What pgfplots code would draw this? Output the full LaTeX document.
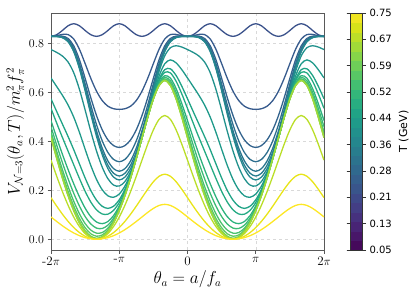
\documentclass[border=0pt]{standalone}
\usepackage{fontspec}
\usepackage{pgfplots}
\usepackage{pgfplotstable}
\pgfplotsset{compat=1.18}
\newfontfamily\dejavu{DejaVu Sans}
\definecolor{k1}{HTML}{3B528B}
\definecolor{k2}{HTML}{375B8D}
\definecolor{k3}{HTML}{33638D}
\definecolor{k4}{HTML}{2E6E8E}
\definecolor{k5}{HTML}{2B758E}
\definecolor{k6}{HTML}{287D8E}
\definecolor{k7}{HTML}{24878E}
\definecolor{k8}{HTML}{21918C}
\definecolor{k9}{HTML}{1F998A}
\definecolor{k10}{HTML}{20A386}
\definecolor{k11}{HTML}{24AA83}
\definecolor{k12}{HTML}{2DB27D}
\definecolor{k13}{HTML}{3BBB75}
\definecolor{k14}{HTML}{4AC16D}
\definecolor{k15}{HTML}{5EC962}
\definecolor{k16}{HTML}{73D056}
\definecolor{k17}{HTML}{84D44B}
\definecolor{k17b}{HTML}{A0DA39}
\definecolor{k18}{HTML}{BADE28}
\definecolor{k19}{HTML}{E8E419}
\definecolor{k20}{HTML}{FDE725}

\pgfplotstableread{
x c1 c2 c3 c4 c5 c6 c7 c8 c9 c10 c11 c12 c13 c14 c15 c16 c17 c18 c19 c20
-2 0.8294 0.8294 0.8294 0.8294 0.8294 0.8294 0.8294 0.7755 0.6594 0.5744 0.5350 0.4852 0.4603 0.4396 0.4271 0.4188 0.4147 0.3235 0.1700 0.0912
-1.9167 0.8362 0.8322 0.8304 0.8297 0.8292 0.8290 0.8288 0.7639 0.6244 0.5223 0.4750 0.4152 0.3853 0.3604 0.3454 0.3355 0.3305 0.2578 0.1355 0.0727
-1.8333 0.8535 0.8374 0.8303 0.8276 0.8258 0.8249 0.8241 0.7492 0.5887 0.4712 0.4167 0.3479 0.3136 0.2849 0.2677 0.2562 0.2505 0.1954 0.1027 0.0551
-1.75 0.8728 0.8369 0.8210 0.8150 0.8110 0.8091 0.8074 0.7247 0.5489 0.4201 0.3604 0.2851 0.2474 0.2160 0.1971 0.1846 0.1783 0.1391 0.0731 0.0392
-1.6667 0.8813 0.8185 0.7906 0.7801 0.7731 0.7697 0.7667 0.6807 0.4990 0.3660 0.3044 0.2266 0.1877 0.1552 0.1358 0.1228 0.1163 0.0907 0.0477 0.0256
-1.5833 0.8728 0.7765 0.7337 0.7177 0.7070 0.7016 0.6972 0.6128 0.4370 0.3082 0.2485 0.1732 0.1355 0.1041 0.0852 0.0727 0.0664 0.0518 0.0272 0.0146
-1.5 0.8535 0.7182 0.6581 0.6356 0.6205 0.6130 0.6068 0.5285 0.3680 0.2505 0.1960 0.1272 0.0929 0.0642 0.0470 0.0355 0.0298 0.0232 0.0122 0.0066
-1.4167 0.8362 0.6577 0.5784 0.5487 0.5288 0.5189 0.5107 0.4409 0.3014 0.1993 0.1520 0.0922 0.0623 0.0374 0.0224 0.0125 0.0075 0.0059 0.0031 0.0017
-1.3333 0.8294 0.6055 0.5059 0.4686 0.4437 0.4313 0.4209 0.3608 0.2447 0.1597 0.1203 0.0705 0.0456 0.0249 0.0124 0.0041 0.0000 0.0000 0.0000 0.0000
-1.25 0.8362 0.5672 0.4476 0.4028 0.3729 0.3579 0.3455 0.2950 0.2025 0.1347 0.1033 0.0637 0.0439 0.0273 0.0174 0.0108 0.0075 0.0059 0.0031 0.0017
-1.1667 0.8535 0.5440 0.4064 0.3548 0.3204 0.3032 0.2889 0.2477 0.1776 0.1262 0.1024 0.0724 0.0574 0.0448 0.0373 0.0323 0.0298 0.0232 0.0122 0.0066
-1.0833 0.8728 0.5336 0.3829 0.3264 0.2887 0.2698 0.2541 0.2215 0.1716 0.1350 0.1181 0.0967 0.0860 0.0771 0.0717 0.0682 0.0664 0.0518 0.0272 0.0146
-1 0.8813 0.5310 0.3753 0.3169 0.2780 0.2585 0.2423 0.2175 0.1849 0.1611 0.1500 0.1361 0.1291 0.1233 0.1198 0.1175 0.1163 0.0907 0.0477 0.0256
-0.9167 0.8728 0.5336 0.3829 0.3264 0.2887 0.2698 0.2541 0.2361 0.2175 0.2039 0.1976 0.1896 0.1856 0.1823 0.1803 0.1790 0.1783 0.1391 0.0731 0.0392
-0.8333 0.8535 0.5440 0.4064 0.3548 0.3204 0.3032 0.2889 0.2764 0.2681 0.2620 0.2591 0.2556 0.2538 0.2523 0.2514 0.2508 0.2505 0.1954 0.1027 0.0551
-0.75 0.8362 0.5672 0.4476 0.4028 0.3729 0.3579 0.3455 0.3370 0.3349 0.3334 0.3327 0.3318 0.3313 0.3310 0.3307 0.3306 0.3305 0.2578 0.1355 0.0727
-0.6667 0.8294 0.6055 0.5059 0.4686 0.4437 0.4313 0.4209 0.4147 0.4147 0.4147 0.4147 0.4147 0.4147 0.4147 0.4147 0.4147 0.4147 0.3235 0.1700 0.0912
-0.5833 0.8362 0.6577 0.5784 0.5487 0.5288 0.5189 0.5107 0.5047 0.5026 0.5011 0.5004 0.4995 0.4990 0.4987 0.4984 0.4983 0.4982 0.3886 0.2043 0.1096
-0.5 0.8535 0.7182 0.6581 0.6356 0.6205 0.6130 0.6068 0.5991 0.5908 0.5847 0.5818 0.5783 0.5765 0.5750 0.5741 0.5735 0.5732 0.4471 0.2350 0.1261
-0.4167 0.8728 0.7765 0.7337 0.7177 0.7070 0.7016 0.6972 0.6859 0.6673 0.6537 0.6474 0.6394 0.6354 0.6321 0.6301 0.6288 0.6281 0.4899 0.2575 0.1382
-0.3333 0.8813 0.8185 0.7906 0.7801 0.7731 0.7697 0.7667 0.7499 0.7173 0.6935 0.6824 0.6685 0.6615 0.6557 0.6522 0.6499 0.6487 0.5060 0.2660 0.1427
-0.25 0.8728 0.8369 0.8210 0.8150 0.8110 0.8091 0.8074 0.7832 0.7333 0.6967 0.6798 0.6584 0.6477 0.6388 0.6334 0.6299 0.6281 0.4899 0.2575 0.1382
-0.1667 0.8535 0.8374 0.8303 0.8276 0.8258 0.8249 0.8241 0.7911 0.7210 0.6696 0.6458 0.6158 0.6008 0.5882 0.5807 0.5757 0.5732 0.4471 0.2350 0.1261
-0.0833 0.8362 0.8322 0.8304 0.8297 0.8292 0.8290 0.8288 0.7857 0.6932 0.6254 0.5940 0.5544 0.5346 0.5180 0.5081 0.5015 0.4982 0.3886 0.2043 0.1096
0 0.8294 0.8294 0.8294 0.8294 0.8294 0.8294 0.8294 0.7755 0.6594 0.5744 0.5350 0.4852 0.4603 0.4396 0.4271 0.4188 0.4147 0.3235 0.1700 0.0912
0.0833 0.8362 0.8322 0.8304 0.8297 0.8292 0.8290 0.8288 0.7639 0.6244 0.5223 0.4750 0.4152 0.3853 0.3604 0.3454 0.3355 0.3305 0.2578 0.1355 0.0727
0.1667 0.8535 0.8374 0.8303 0.8276 0.8258 0.8249 0.8241 0.7492 0.5887 0.4712 0.4167 0.3479 0.3136 0.2849 0.2677 0.2562 0.2505 0.1954 0.1027 0.0551
0.25 0.8728 0.8369 0.8210 0.8150 0.8110 0.8091 0.8074 0.7247 0.5489 0.4201 0.3604 0.2851 0.2474 0.2160 0.1971 0.1846 0.1783 0.1391 0.0731 0.0392
0.3333 0.8813 0.8185 0.7906 0.7801 0.7731 0.7697 0.7667 0.6807 0.4990 0.3660 0.3044 0.2266 0.1877 0.1552 0.1358 0.1228 0.1163 0.0907 0.0477 0.0256
0.4167 0.8728 0.7765 0.7337 0.7177 0.7070 0.7016 0.6972 0.6128 0.4370 0.3082 0.2485 0.1732 0.1355 0.1041 0.0852 0.0727 0.0664 0.0518 0.0272 0.0146
0.5 0.8535 0.7182 0.6581 0.6356 0.6205 0.6130 0.6068 0.5285 0.3680 0.2505 0.1960 0.1272 0.0929 0.0642 0.0470 0.0355 0.0298 0.0232 0.0122 0.0066
0.5833 0.8362 0.6577 0.5784 0.5487 0.5288 0.5189 0.5107 0.4409 0.3014 0.1993 0.1520 0.0922 0.0623 0.0374 0.0224 0.0125 0.0075 0.0059 0.0031 0.0017
0.6667 0.8294 0.6055 0.5059 0.4686 0.4437 0.4313 0.4209 0.3608 0.2447 0.1597 0.1203 0.0705 0.0456 0.0249 0.0124 0.0041 0.0000 0.0000 0.0000 0.0000
0.75 0.8362 0.5672 0.4476 0.4028 0.3729 0.3579 0.3455 0.2950 0.2025 0.1347 0.1033 0.0637 0.0439 0.0273 0.0174 0.0108 0.0075 0.0059 0.0031 0.0017
0.8333 0.8535 0.5440 0.4064 0.3548 0.3204 0.3032 0.2889 0.2477 0.1776 0.1262 0.1024 0.0724 0.0574 0.0448 0.0373 0.0323 0.0298 0.0232 0.0122 0.0066
0.9167 0.8728 0.5336 0.3829 0.3264 0.2887 0.2698 0.2541 0.2215 0.1716 0.1350 0.1181 0.0967 0.0860 0.0771 0.0717 0.0682 0.0664 0.0518 0.0272 0.0146
1 0.8813 0.5310 0.3753 0.3169 0.2780 0.2585 0.2423 0.2175 0.1849 0.1611 0.1500 0.1361 0.1291 0.1233 0.1198 0.1175 0.1163 0.0907 0.0477 0.0256
1.0833 0.8728 0.5336 0.3829 0.3264 0.2887 0.2698 0.2541 0.2361 0.2175 0.2039 0.1976 0.1896 0.1856 0.1823 0.1803 0.1790 0.1783 0.1391 0.0731 0.0392
1.1667 0.8535 0.5440 0.4064 0.3548 0.3204 0.3032 0.2889 0.2764 0.2681 0.2620 0.2591 0.2556 0.2538 0.2523 0.2514 0.2508 0.2505 0.1954 0.1027 0.0551
1.25 0.8362 0.5672 0.4476 0.4028 0.3729 0.3579 0.3455 0.3370 0.3349 0.3334 0.3327 0.3318 0.3313 0.3310 0.3307 0.3306 0.3305 0.2578 0.1355 0.0727
1.3333 0.8294 0.6055 0.5059 0.4686 0.4437 0.4313 0.4209 0.4147 0.4147 0.4147 0.4147 0.4147 0.4147 0.4147 0.4147 0.4147 0.4147 0.3235 0.1700 0.0912
1.4167 0.8362 0.6577 0.5784 0.5487 0.5288 0.5189 0.5107 0.5047 0.5026 0.5011 0.5004 0.4995 0.4990 0.4987 0.4984 0.4983 0.4982 0.3886 0.2043 0.1096
1.5 0.8535 0.7182 0.6581 0.6356 0.6205 0.6130 0.6068 0.5991 0.5908 0.5847 0.5818 0.5783 0.5765 0.5750 0.5741 0.5735 0.5732 0.4471 0.2350 0.1261
1.5833 0.8728 0.7765 0.7337 0.7177 0.7070 0.7016 0.6972 0.6859 0.6673 0.6537 0.6474 0.6394 0.6354 0.6321 0.6301 0.6288 0.6281 0.4899 0.2575 0.1382
1.6667 0.8813 0.8185 0.7906 0.7801 0.7731 0.7697 0.7667 0.7499 0.7173 0.6935 0.6824 0.6685 0.6615 0.6557 0.6522 0.6499 0.6487 0.5060 0.2660 0.1427
1.75 0.8728 0.8369 0.8210 0.8150 0.8110 0.8091 0.8074 0.7832 0.7333 0.6967 0.6798 0.6584 0.6477 0.6388 0.6334 0.6299 0.6281 0.4899 0.2575 0.1382
1.8333 0.8535 0.8374 0.8303 0.8276 0.8258 0.8249 0.8241 0.7911 0.7210 0.6696 0.6458 0.6158 0.6008 0.5882 0.5807 0.5757 0.5732 0.4471 0.2350 0.1261
1.9167 0.8362 0.8322 0.8304 0.8297 0.8292 0.8290 0.8288 0.7857 0.6932 0.6254 0.5940 0.5544 0.5346 0.5180 0.5081 0.5015 0.4982 0.3886 0.2043 0.1096
2 0.8294 0.8294 0.8294 0.8294 0.8294 0.8294 0.8294 0.7755 0.6594 0.5744 0.5350 0.4852 0.4603 0.4396 0.4271 0.4188 0.4147 0.3235 0.1700 0.0912
}\curves

\begin{document}
\begin{tikzpicture}
\useasboundingbox (0,0) rectangle (411pt,297pt);
\begin{axis}[
  at={(51pt,47pt)}, anchor=south west,
  scale only axis, width=273pt, height=237pt,
  xmin=-2, xmax=2, ymin=-0.044, ymax=0.925,
  xtick={-2,-1,0,1,2},
  xticklabels={-2$\pi$,-$\pi$,0,$\pi$,2$\pi$},
  ytick={0,0.2,0.4,0.6,0.8},
  yticklabel style={/pgf/number format/fixed,/pgf/number format/fixed zerofill,/pgf/number format/precision=1},
  tick label style={font=\fontsize{13}{15}\selectfont},
  grid=major, grid style={dashed, black!15, line width=0.5pt},
  axis line style={black!65, line width=0.8pt},
  tick align=outside, major tick length=3.5pt,
  tick style={black!65, line width=0.8pt},
  tick pos=left,
  xlabel={$\theta_a = a/f_a$},
  ylabel={$V_{\mathcal{N}=3}(\theta_a,T)/m_\pi^2 f_\pi^2$},
  label style={font=\fontsize{16}{18}\selectfont},
  xlabel style={yshift=2pt},
  ylabel style={yshift=-2pt},
  colormap/viridis,
  colorbar, colorbar sampled,
  point meta min=0.05, point meta max=0.75,
  colorbar style={
    at={(parent axis.north east)}, anchor=north west, xshift=17.5pt,
    width=12.5pt, height=237pt,
    samples=26,
    ytick={0.05,0.12778,0.20556,0.28333,0.36111,0.43889,0.51667,0.59444,0.67222,0.75},
    yticklabels={0.05,0.13,0.21,0.28,0.36,0.44,0.52,0.59,0.67,0.75},
    yticklabel style={font=\dejavu\fontsize{10}{12}\selectfont},
    ylabel={T (GeV)},
    ylabel style={font=\dejavu\fontsize{11}{13}\selectfont},
    axis line style={black!80, line width=0.6pt},
    tick style={black!80, line width=0.6pt},
    tick align=outside, major tick length=3.5pt,
  },
  every axis plot/.append style={line width=1.3pt, smooth},
]
\addplot[k1] table[x=x,y=c1]{\curves};
\addplot[k2] table[x=x,y=c2]{\curves};
\addplot[k3] table[x=x,y=c3]{\curves};
\addplot[k4] table[x=x,y=c4]{\curves};
\addplot[k5] table[x=x,y=c5]{\curves};
\addplot[k6] table[x=x,y=c6]{\curves};
\addplot[k7] table[x=x,y=c7]{\curves};
\addplot[k8] table[x=x,y=c8]{\curves};
\addplot[k9] table[x=x,y=c9]{\curves};
\addplot[k10] table[x=x,y=c10]{\curves};
\addplot[k11] table[x=x,y=c11]{\curves};
\addplot[k12] table[x=x,y=c12]{\curves};
\addplot[k13] table[x=x,y=c13]{\curves};
\addplot[k14] table[x=x,y=c14]{\curves};
\addplot[k15] table[x=x,y=c15]{\curves};
\addplot[k16] table[x=x,y=c16]{\curves};
\addplot[k17] table[x=x,y=c17]{\curves};
\addplot[k17b] table[x=x,y=c17]{\curves};
\addplot[k18] table[x=x,y=c18]{\curves};
\addplot[k19] table[x=x,y=c19]{\curves};
\addplot[k20] table[x=x,y=c20]{\curves};
\end{axis}
\end{tikzpicture}
\end{document}
